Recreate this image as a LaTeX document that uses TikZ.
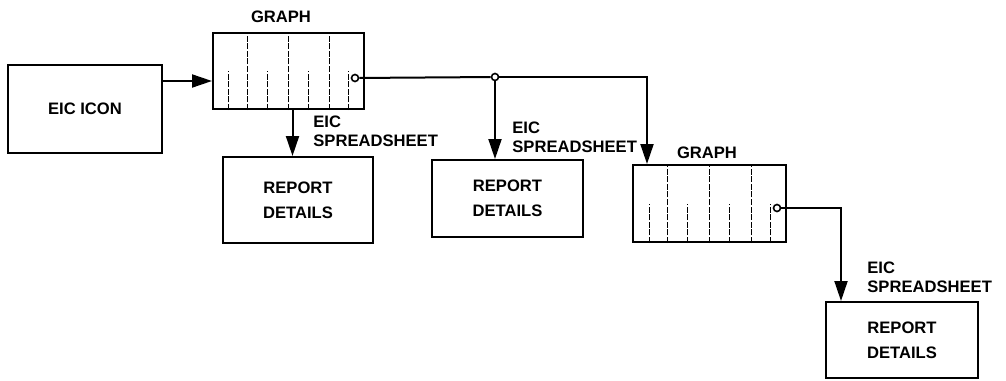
\documentclass[tikz,border=0pt]{standalone}
\usepackage{fontspec}
\setmainfont{Liberation Sans}
\usetikzlibrary{arrows.meta,calc}
\begin{document}
\begin{tikzpicture}[x=0.5pt, y=-0.5pt,
  every node/.style={font=\fontsize{8.3pt}{12.5pt}\selectfont\bfseries},
  box/.style={draw, line width=1pt, align=center, inner sep=0pt},
  lbl/.style={align=left, inner sep=0pt, anchor=north west, font=\fontsize{8.3pt}{9.5pt}\selectfont\bfseries},
  ring/.style={circle, draw, line width=0.8pt, fill=white, minimum size=3.5pt, inner sep=0pt},
  arr/.style={line width=1pt, -{Triangle[length=10pt,width=6.5pt]}},
  wire/.style={line width=1pt},
  bar/.style={line width=0.4pt, dash pattern=on 3pt off 0.8pt}]
\useasboundingbox (0,0) rectangle (1006,380);
% boxes
\node[box, minimum width=77pt, minimum height=44pt] (icon) at (85,109) {EIC ICON};
\node[box, minimum width=75.5pt, minimum height=38pt] (g1) at (288.5,71) {};
\node[box, minimum width=76.5pt, minimum height=38.5pt] (g2) at (709.5,203.5) {};
\node[box, minimum width=75pt, minimum height=43pt] (rep1) at (298,200) {REPORT\\DETAILS};
\node[box, minimum width=75.5pt, minimum height=38.5pt] (rep2) at (507.5,198.5) {REPORT\\DETAILS};
\node[box, minimum width=76pt, minimum height=38pt] (rep3) at (902,340) {REPORT\\DETAILS};
% titles
\node (t1) at (281,17) {GRAPH};
\node (t2) at (707,153) {GRAPH};
% bars inside the graphs
\foreach \g in {g1,g2} {
  \foreach \f in {0.23,0.5,0.77}
    \draw[bar] ($(\g.south west)!\f!(\g.south east)$) -- ($(\g.north west)!\f!(\g.north east)$);
  \foreach \f in {0.11,0.36,0.63,0.89}
    \draw[bar] ($(\g.south west)!\f!(\g.south east)$) -- ($(\g.west)!\f!(\g.east)$);
}
% outlets and junction
\node[ring] (c1) at (355,78) {};
\node[ring] (c2) at (777,208) {};
\node[ring] (j) at (495,77) {};
% connectors
\draw[arr] ([yshift=14pt]icon.east) -- ([yshift=14pt]icon.east -| g1.west);
\draw[arr] ([xshift=2pt]g1.south) -- ([xshift=2pt]g1.south |- rep1.north);
\draw[wire] (c1) -- (j);
\draw[arr] (j) -- (j |- rep2.north);
\draw[arr] (j) -| ([xshift=7.5pt]g2.north west);
\draw[arr] (c2) -| ([xshift=8pt]rep3.north west);
% spreadsheet labels
\node[lbl] (s1) at (313,116) {EIC\\SPREADSHEET};
\node[lbl] (s2) at (512,122) {EIC\\SPREADSHEET};
\node[lbl] (s3) at (867,262) {EIC\\SPREADSHEET};
\end{tikzpicture}
\end{document}
